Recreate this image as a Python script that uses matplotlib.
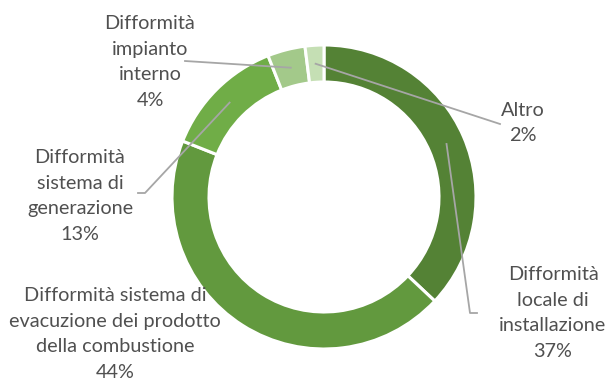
import numpy as np
import matplotlib.pyplot as plt

plt.rcParams['font.family'] = ['Lato', 'DejaVu Sans']

# quote per tipo di difformità (%)
labels = ['Difformità\nlocale di\ninstallazione',
          'Difformità sistema di\nevacuzione dei prodotto\ndella combustione',
          'Difformità\nsistema di\ngenerazione',
          'Difformità\nimpianto\ninterno',
          'Altro']
values = [37, 44, 13, 4, 2]
colors = ['#548235', '#62993e', '#70ad47', '#a3c98a', '#c5dfb4']

W, H = 609, 381
cx, cy = 324, H - 197
R, width = 152, 37

fig = plt.figure(figsize=(W / 100, H / 100), dpi=100)
ax = fig.add_axes([0, 0, 1, 1])

ax.pie(values, colors=colors, startangle=90, counterclock=False,
       radius=R, center=(cx, cy), frame=True,
       wedgeprops=dict(width=width, edgecolor='white', linewidth=2.2))
ax.set_xlim(0, W)
ax.set_ylim(0, H)
ax.set_aspect('equal')
ax.axis('off')

# posizione delle etichette e dei gomiti delle linee guida (pixel dall'alto)
text_pos = [(553, 313), (115, 334), (80, 196), (150, 62), (523, 123)]
elbows = [[(470, 313), (477, 313)], None, [(145, 193), (138, 193)],
          [(185, 61)], [(500, 124)]]

start = 90.0
r_mid = R - width / 2
for lab, v, (tx, ty), elb in zip(labels, values, text_pos, elbows):
    mid = np.radians(start - v * 3.6 / 2)
    start -= v * 3.6
    ax.text(tx, H - ty, f'{lab}\n{v}%', ha='center', va='center',
            fontsize=14.3, color='#505050', linespacing=1.62)
    if elb is None:
        continue
    ax_, ay_ = cx + r_mid * np.cos(mid), cy + r_mid * np.sin(mid)
    xs = [ax_] + [p[0] for p in elb]
    ys = [ay_] + [H - p[1] for p in elb]
    ax.plot(xs, ys, color='#a6a6a6', lw=1.3)

fig.savefig('out.png', dpi=100)
